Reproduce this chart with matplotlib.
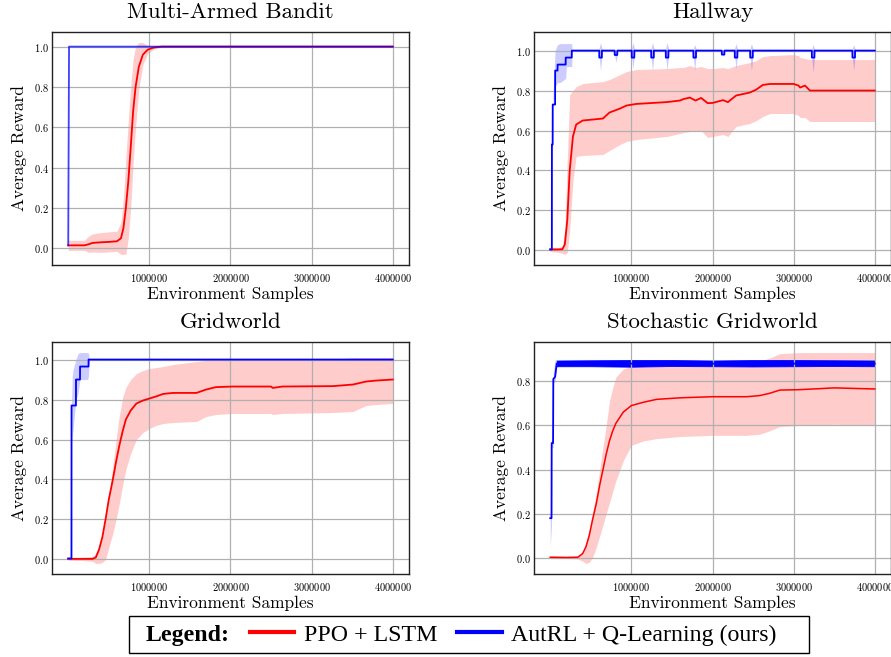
import numpy as np
import matplotlib
matplotlib.use("Agg")
import matplotlib.pyplot as plt
from matplotlib.lines import Line2D

plt.rcParams['font.family'] = ['cmr10', 'DejaVu Serif']
plt.rcParams['axes.formatter.use_mathtext'] = True

RED = "#ff0000"
BLUE = "#0000ff"

# x values are in millions of environment samples

# --- Multi-Armed Bandit ---
bandit_red_x = [0, 0.1, 0.2, 0.25, 0.3, 0.4, 0.5, 0.6, 0.65, 0.68, 0.71, 0.74, 0.77,
                0.80, 0.83, 0.87, 0.92, 0.98, 1.05, 1.15, 1.3, 4.0]
bandit_red_y = [0.015, 0.015, 0.015, 0.02, 0.027, 0.03, 0.032, 0.035, 0.05, 0.1, 0.2,
                0.33, 0.5, 0.68, 0.8, 0.9, 0.96, 0.985, 0.995, 1.0, 1.0, 1.0]
bandit_red_lo = [-0.01, -0.01, -0.01, -0.02, -0.018, -0.02, -0.018, -0.015, -0.03, -0.03,
                 -0.03, 0.05, 0.2, 0.42, 0.6, 0.79, 0.91, 0.965, 0.987, 0.997, 1.0, 1.0]
bandit_red_hi = [0.04, 0.04, 0.04, 0.06, 0.072, 0.078, 0.082, 0.085, 0.13, 0.25, 0.45,
                 0.63, 0.8, 0.94, 1.0, 1.02, 1.02, 1.005, 1.003, 1.002, 1.0, 1.0]
bandit_blue_x = [0, 0.01, 4.0]
bandit_blue_y = [0.015, 1.0, 1.0]

# --- Hallway ---
hall_red_x = [0, 0.10, 0.15, 0.18, 0.21, 0.24, 0.28, 0.32, 0.40, 0.65, 0.73, 0.86, 0.94,
              1.06, 1.43, 1.60, 1.64, 1.72, 1.79, 1.86, 1.94, 2.00, 2.13, 2.19, 2.29,
              2.46, 2.54, 2.62, 2.71, 3.00, 3.06, 3.08, 3.14, 3.20, 4.00]
hall_red_y = [0.005, 0.005, 0.006, 0.03, 0.15, 0.40, 0.57, 0.63, 0.65, 0.66, 0.69, 0.71,
              0.725, 0.733, 0.742, 0.75, 0.757, 0.765, 0.75, 0.763, 0.737, 0.738, 0.752,
              0.742, 0.775, 0.79, 0.805, 0.828, 0.833, 0.833, 0.825, 0.815, 0.825, 0.80, 0.80]
hall_red_lo = [-0.005, -0.01, -0.015, -0.02, -0.01, 0.1, 0.35, 0.47, 0.475, 0.48, 0.50,
               0.53, 0.545, 0.555, 0.57, 0.585, 0.59, 0.595, 0.6, 0.6, 0.565, 0.57, 0.58,
               0.57, 0.62, 0.635, 0.65, 0.67, 0.685, 0.685, 0.675, 0.665, 0.665, 0.645, 0.645]
hall_red_hi = [0.015, 0.015, 0.02, 0.1, 0.45, 0.78, 0.8, 0.82, 0.835, 0.845, 0.855, 0.88,
               0.895, 0.905, 0.91, 0.915, 0.915, 0.925, 0.915, 0.92, 0.91, 0.91, 0.915,
               0.91, 0.925, 0.94, 0.95, 0.97, 0.975, 0.98, 0.975, 0.965, 0.96, 0.955, 0.955]
hall_blue_x = [0, 0.02, 0.021, 0.03, 0.031, 0.06, 0.061, 0.09, 0.091, 0.19, 0.191, 0.265, 0.266]
hall_blue_y = [0.005, 0.005, 0.53, 0.53, 0.73, 0.73, 0.9, 0.9, 0.93, 0.93, 0.965, 0.965, 1.0]
hall_blue_band_x = [0.03, 0.06, 0.09, 0.12, 0.19, 0.2, 0.265, 0.27]
hall_blue_band_lo = [0.73, 0.82, 0.84, 0.84, 0.86, 0.92, 0.92, 1.0]
hall_blue_band_hi = [0.73, 1.0, 1.03, 1.035, 1.035, 1.035, 1.035, 1.0]
# short drops of the blue curve after it reached 1.0
hall_dip_x = [0.62, 0.81, 1.02, 1.26, 1.44, 1.78, 2.13, 2.29, 2.48, 3.24, 3.74]
hall_dip_y = [0.965, 0.978, 0.965, 0.965, 0.965, 0.965, 0.98, 0.965, 0.965, 0.965, 0.965]
hall_dip_lo = [0.9, 0.94, 0.91, 0.9, 0.9, 0.9, 0.97, 0.91, 0.9, 0.89, 0.9]
hall_dip_hi = [1.04, 1.0, 1.04, 1.04, 1.04, 1.03, 1.0, 1.035, 1.035, 1.03, 1.03]
hall_dip_width = 0.032

# --- Gridworld ---
grid_red_x = [0, 0.15, 0.3, 0.34, 0.38, 0.42, 0.46, 0.50, 0.55, 0.59, 0.63, 0.67, 0.71,
              0.77, 0.84, 0.92, 1.0, 1.08, 1.17, 1.29, 1.58, 1.70, 1.82, 2.03, 2.50, 2.52,
              2.64, 3.26, 3.51, 3.67, 3.80, 4.0]
grid_red_y = [0.003, 0.003, 0.003, 0.01, 0.05, 0.11, 0.2, 0.3, 0.4, 0.49, 0.57, 0.64, 0.7,
              0.745, 0.78, 0.795, 0.805, 0.815, 0.828, 0.833, 0.833, 0.85, 0.862, 0.865,
              0.865, 0.858, 0.865, 0.867, 0.875, 0.89, 0.895, 0.9]
grid_red_lo = [-0.005, -0.005, -0.01, -0.02, -0.02, -0.015, 0.0, 0.06, 0.13, 0.2, 0.28,
               0.37, 0.45, 0.53, 0.6, 0.635, 0.655, 0.67, 0.68, 0.685, 0.69, 0.715, 0.725,
               0.73, 0.73, 0.725, 0.73, 0.735, 0.74, 0.77, 0.775, 0.78]
grid_red_hi = [0.01, 0.01, 0.015, 0.03, 0.06, 0.1, 0.19, 0.3, 0.47, 0.6, 0.72, 0.81, 0.86,
               0.9, 0.93, 0.945, 0.955, 0.96, 0.965, 0.975, 0.99, 0.995, 1.0, 1.0, 1.0,
               0.995, 1.0, 1.0, 1.01, 1.01, 1.01, 1.01]
grid_blue_x = [0, 0.04, 0.041, 0.095, 0.096, 0.145, 0.146, 0.25, 0.251, 4.0]
grid_blue_y = [0.005, 0.005, 0.77, 0.77, 0.9, 0.9, 0.965, 0.965, 1.0, 1.0]
grid_blue_band_x = [0.04, 0.05, 0.06, 0.095, 0.12, 0.145, 0.24, 0.25, 0.26]
grid_blue_band_lo = [0.77, 0.6, 0.65, 0.8, 0.83, 0.9, 0.9, 0.92, 1.0]
grid_blue_band_hi = [0.77, 0.92, 0.95, 1.0, 1.03, 1.035, 1.035, 1.03, 1.0]

# --- Stochastic Gridworld ---
sto_red_x = [0, 0.2, 0.34, 0.40, 0.44, 0.48, 0.52, 0.57, 0.61, 0.65, 0.69, 0.73, 0.77,
             0.81, 0.9, 1.0, 1.15, 1.31, 1.6, 2.0, 2.42, 2.58, 2.7, 2.83, 3.08, 3.5, 4.0]
sto_red_y = [0.003, 0.002, 0.003, 0.02, 0.05, 0.1, 0.17, 0.25, 0.33, 0.4, 0.47, 0.53,
             0.575, 0.61, 0.66, 0.69, 0.705, 0.718, 0.725, 0.73, 0.73, 0.735, 0.745, 0.76,
             0.762, 0.77, 0.765]
sto_red_lo = [-0.003, -0.003, -0.005, -0.015, -0.025, -0.02, 0.0, 0.05, 0.1, 0.15, 0.2,
              0.25, 0.3, 0.35, 0.44, 0.51, 0.53, 0.54, 0.55, 0.555, 0.555, 0.56, 0.575,
              0.595, 0.6, 0.605, 0.6]
sto_red_hi = [0.01, 0.008, 0.01, 0.03, 0.07, 0.13, 0.2, 0.3, 0.4, 0.5, 0.6, 0.71, 0.77,
              0.82, 0.855, 0.87, 0.88, 0.883, 0.885, 0.885, 0.885, 0.89, 0.905, 0.925,
              0.93, 0.93, 0.93]
sto_blue_x = [0, 0.016, 0.018, 0.035, 0.038, 0.06, 0.08, 4.0]
sto_blue_y = [0.18, 0.18, 0.52, 0.52, 0.81, 0.82, 0.88, 0.88]
sto_blue_band_x = [0, 0.016, 0.018, 0.035, 0.038, 0.06, 0.08]
sto_blue_band_lo = [0.045, 0.15, 0.5, 0.5, 0.79, 0.8, 0.868]
sto_blue_band_hi = [0.2, 0.2, 0.54, 0.54, 0.84, 0.9, 0.894]
# spread of the noisy blue curve once it settles
sto_noise_x = [0.08, 0.5, 1.0, 1.5, 2.0, 2.5, 3.0, 3.5, 4.0]
sto_noise_lo = [0.868, 0.868, 0.866, 0.869, 0.868, 0.867, 0.868, 0.869, 0.868]
sto_noise_hi = [0.894, 0.895, 0.896, 0.896, 0.894, 0.896, 0.896, 0.895, 0.894]


def dipped_curve(start_x, start_y, dips_x, dips_y, width, end_x):
    xs, ys = list(start_x), list(start_y)
    for c, d in zip(dips_x, dips_y):
        xs += [c - width / 2, c - width / 2 + 0.001, c + width / 2, c + width / 2 + 0.001]
        ys += [1.0, d, d, 1.0]
    xs.append(end_x)
    ys.append(1.0)
    return np.array(xs), np.array(ys)


def M(v):
    return np.asarray(v) * 1e6


W, H = 891, 657
fig = plt.figure(figsize=(W / 100, H / 100), dpi=100)


def make_ax(left, top, right, bottom):
    return fig.add_axes([left / W, (H - bottom) / H, (right - left) / W, (bottom - top) / H])


ax_bandit = make_ax(52, 32, 409, 265)
ax_hall = make_ax(534, 32, 891, 265)
ax_grid = make_ax(52, 342, 409, 574)
ax_sto = make_ax(534, 342, 891, 574)

band_kw = dict(linewidth=0)

# bandit (blue drawn last, slightly see-through, so the overlap reads purple)
ax = ax_bandit
ax.fill_between(M(bandit_red_x), bandit_red_lo, bandit_red_hi, color=RED, alpha=0.2, **band_kw)
ax.plot(M(bandit_red_x), bandit_red_y, color=RED, lw=1.3)
ax.plot(M(bandit_blue_x), bandit_blue_y, color=BLUE, lw=1.3, alpha=0.75)

# hallway
ax = ax_hall
ax.fill_between(M(hall_red_x), hall_red_lo, hall_red_hi, color=RED, alpha=0.2, **band_kw)
ax.plot(M(hall_red_x), hall_red_y, color=RED, lw=1.3)
ax.fill_between(M(hall_blue_band_x), hall_blue_band_lo, hall_blue_band_hi,
                color=BLUE, alpha=0.2, **band_kw)
for c, lo, hi in zip(hall_dip_x, hall_dip_lo, hall_dip_hi):
    ax.fill_between(M([c - 0.025, c, c + 0.025]), [1.0, lo, 1.0], [1.0, hi, 1.0],
                    color=BLUE, alpha=0.2, **band_kw)
hx, hy = dipped_curve(hall_blue_x, hall_blue_y, hall_dip_x, hall_dip_y, hall_dip_width, 4.0)
ax.plot(M(hx), hy, color=BLUE, lw=1.3)

# gridworld
ax = ax_grid
ax.fill_between(M(grid_red_x), grid_red_lo, grid_red_hi, color=RED, alpha=0.2, **band_kw)
ax.plot(M(grid_red_x), grid_red_y, color=RED, lw=1.3)
ax.fill_between(M(grid_blue_band_x), grid_blue_band_lo, grid_blue_band_hi,
                color=BLUE, alpha=0.2, **band_kw)
ax.plot(M(grid_blue_x), grid_blue_y, color=BLUE, lw=1.3)

# stochastic gridworld
ax = ax_sto
ax.fill_between(M(sto_red_x), sto_red_lo, sto_red_hi, color=RED, alpha=0.2, **band_kw)
ax.plot(M(sto_red_x), sto_red_y, color=RED, lw=1.1)
ax.fill_between(M(sto_blue_band_x), sto_blue_band_lo, sto_blue_band_hi,
                color=BLUE, alpha=0.2, **band_kw)
ax.fill_between(M(sto_noise_x), sto_noise_lo, sto_noise_hi, color=BLUE, lw=0.6, edgecolor=BLUE)
ax.plot(M(sto_blue_x), sto_blue_y, color=BLUE, lw=1.3)

titles = ["Multi-Armed Bandit", "Hallway", "Gridworld", "Stochastic Gridworld"]
for ax, t in zip([ax_bandit, ax_hall, ax_grid, ax_sto], titles):
    ax.set_title(t, fontsize=16.5, pad=10)
    ax.set_xlabel("Environment Samples", fontsize=12.5, labelpad=2)
    ax.set_ylabel("Average Reward", fontsize=12.5, labelpad=5)
    ax.set_xticks([1e6, 2e6, 3e6, 4e6])
    ax.ticklabel_format(axis='x', style='plain', useOffset=False)
    ax.tick_params(axis='both', labelsize=7.5, length=0)
    ax.tick_params(axis='x', pad=5)
    ax.tick_params(axis='y', pad=2)
    ax.grid(True, color="#b0b0b0", lw=0.9)
    for s in ax.spines.values():
        s.set_color("#222222")
        s.set_linewidth(1.0)
ax_sto.set_yticks([0.0, 0.2, 0.4, 0.6, 0.8])

# legend row along the bottom, in a Times-like face
handles = [Line2D([], [], color="none"),
           Line2D([], [], color=RED, lw=3),
           Line2D([], [], color=BLUE, lw=3),
           Line2D([], [], color="none")]
labels = ["Legend:", "PPO + LSTM", "AutRL + Q-Learning (ours)", ""]
leg = fig.legend(handles, labels, loc="upper left", bbox_to_anchor=(129 / W, (H - 616) / H),
                 ncol=4, prop={'family': 'Liberation Serif', 'size': 17.2},
                 frameon=True, fancybox=False, framealpha=1,
                 edgecolor="black", handlelength=1.88, handletextpad=0.39,
                 columnspacing=0.82, borderaxespad=0, borderpad=0.33)
leg.get_frame().set_linewidth(1.0)
leg.get_texts()[0].set_fontweight('bold')
columns = leg._legend_handle_box.get_children()
for col, w in ((columns[0], 6.5), (columns[-1], 3.6)):
    item = col.get_children()[0]
    item.get_children()[0].width = w
    item.sep = 0

fig.savefig("out.png", dpi=100)
